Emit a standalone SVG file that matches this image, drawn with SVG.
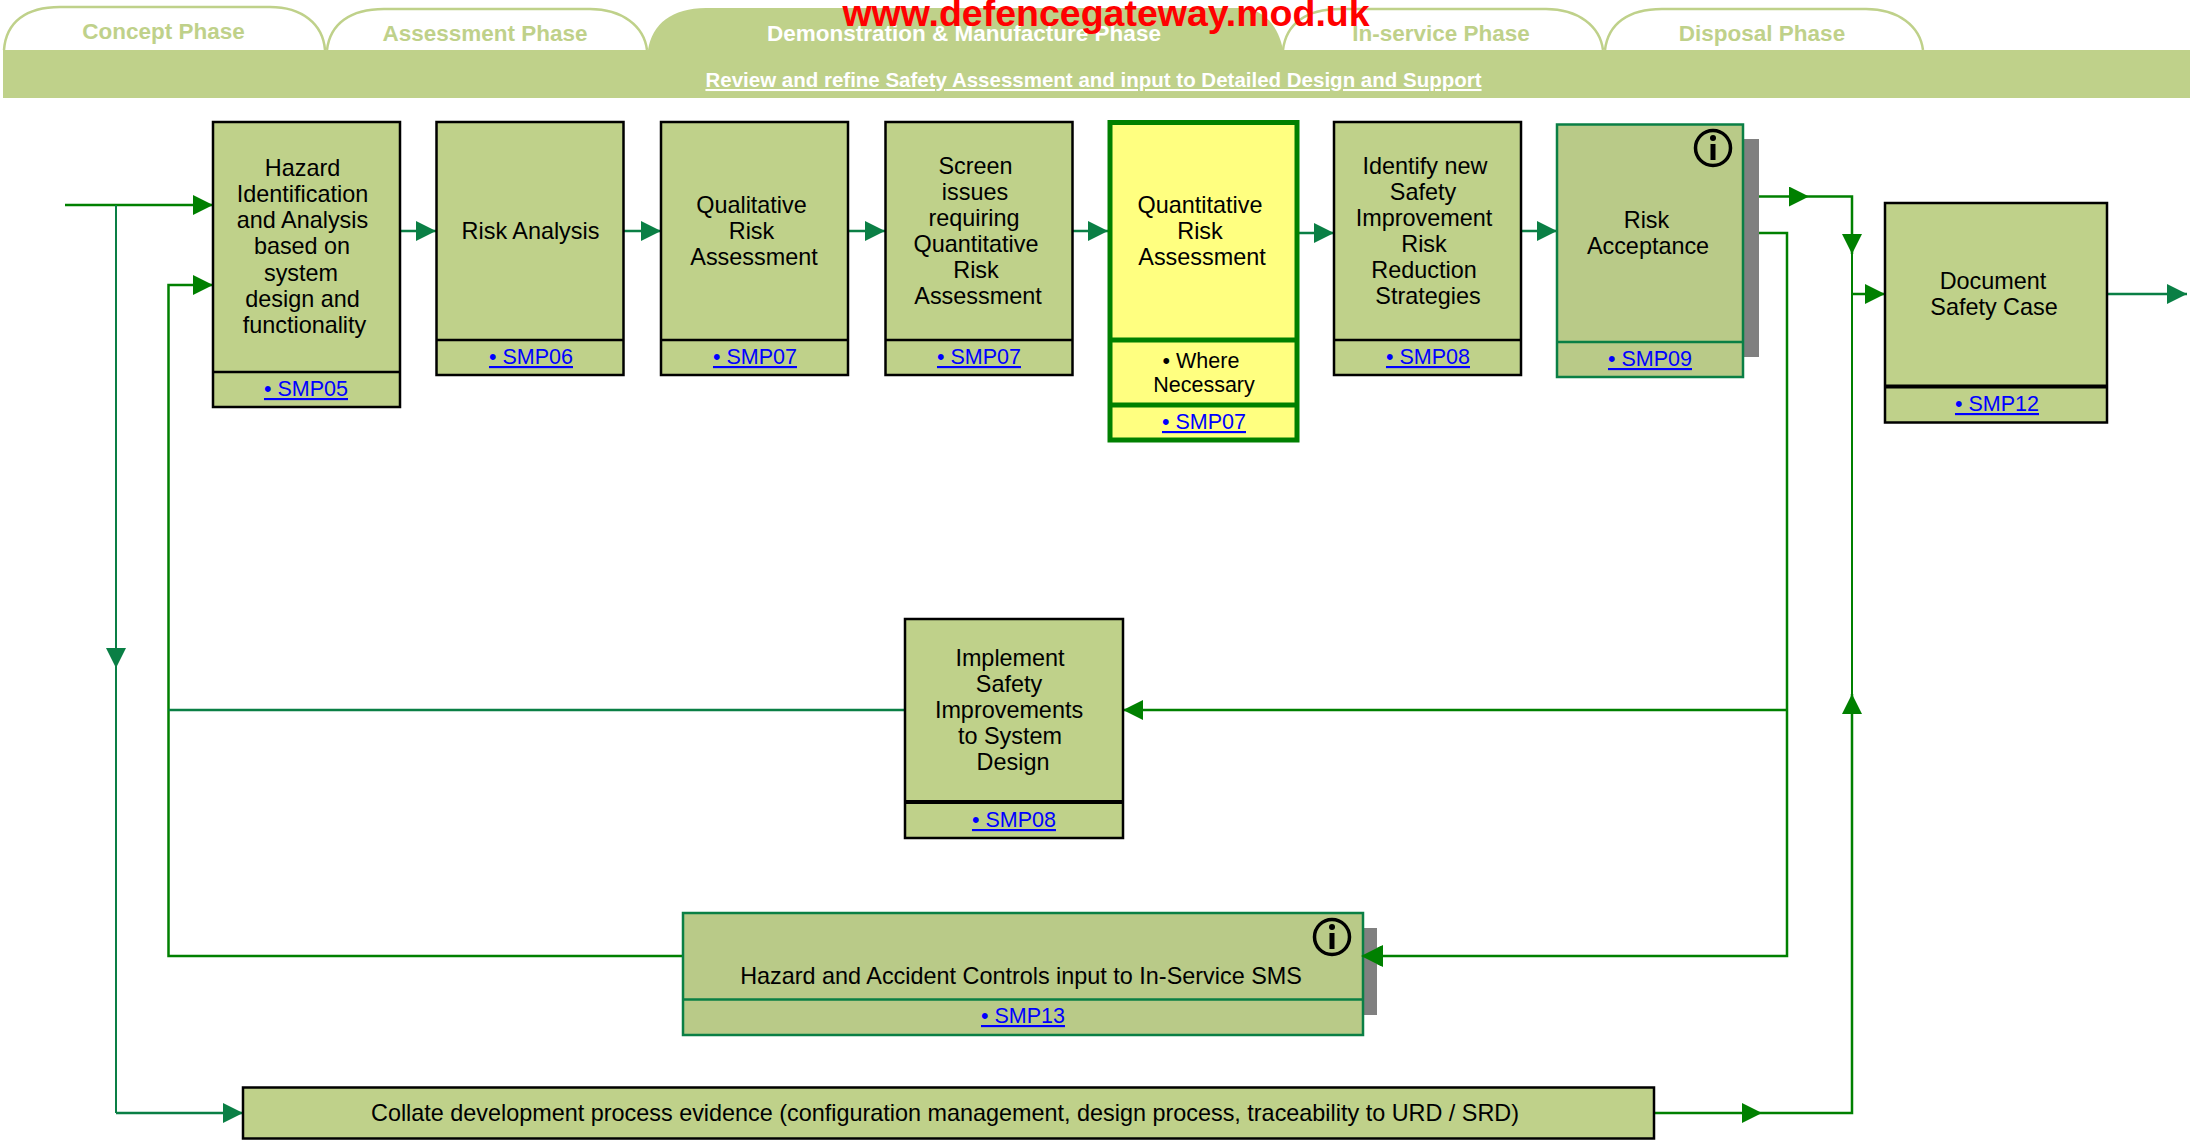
<svg xmlns="http://www.w3.org/2000/svg" width="2190" height="1144" viewBox="0 0 2190 1144">
<style>
text{font-family:"Liberation Sans",Arial,sans-serif;font-size:23.4px;fill:#000;text-anchor:middle}
.link{font-size:21.5px;fill:#0000ff;text-decoration:underline}
.tab{font-size:22.5px;font-weight:bold;fill:#bfd18a}
.act{font-size:22.5px;font-weight:bold;fill:#fff}
.b{fill:#bfd18a;stroke:#000;stroke-width:2.5}
.g{fill:#b9ca88;stroke:#0a7f45;stroke-width:2.5}
.y{fill:#ffff80;stroke:#008000;stroke-width:5}
.tb{fill:#fff;stroke:#bfd18a;stroke-width:2.5}
.c{fill:none;stroke:#008000;stroke-width:2.5}
.t{fill:none;stroke:#0a7f45;stroke-width:2.5}
.th{stroke-width:2}
</style>
<defs>
<marker id="ag" markerUnits="userSpaceOnUse" markerWidth="24" markerHeight="24" refX="20" refY="10" orient="auto"><path d="M0 0L20 10L0 20Z" fill="#008000"/></marker>
<marker id="at" markerUnits="userSpaceOnUse" markerWidth="24" markerHeight="24" refX="20" refY="10" orient="auto"><path d="M0 0L20 10L0 20Z" fill="#0a7f45"/></marker>
</defs>
<g id="phase-header">
<path class="tb" d="M4 50C6 22 26 7 60 7H270C302 7 323 24 325 50"/>
<path class="tb" d="M327 50C330 24 350 9 384 9H590C622 9 644 26 647 50"/>
<path class="tb" d="M1283 50C1286 24 1306 9 1340 9H1546C1578 9 1600 26 1603 50"/>
<path class="tb" d="M1605 50C1608 24 1628 9 1662 9H1866C1898 9 1920 26 1923 50"/>
<path fill="#bfd18a" d="M648 50C652 24 672 8 706 8H1240C1262 8 1278 24 1283 50Z"/>
<rect x="3" y="50" width="2187" height="48" fill="#bfd18a"/>
<text class="tab" x="163.500" y="39">Concept Phase</text>
<text class="tab" x="485" y="41">Assessment Phase</text>
<text class="act" x="964" y="41">Demonstration &amp; Manufacture Phase</text>
<text class="tab" x="1441" y="41">In-service Phase</text>
<text class="tab" x="1762" y="41">Disposal Phase</text>
<text class="act" x="1093.500" y="87" style="font-size:20.5px;text-decoration:underline">Review and refine Safety Assessment and input to Detailed Design and Support</text>
</g>
<g id="connectors">
<path class="c" d="M65 205H213" marker-end="url(#ag)"/>
<path class="t th" d="M116 205V668" marker-end="url(#at)"/>
<path class="t th" d="M116 668V1113"/>
<path class="t" d="M116 1113H243" marker-end="url(#at)"/>
<path class="c" d="M682 956H168.500V285H213" marker-end="url(#ag)"/>
<path class="t" d="M905 710H168.500"/>
<path class="t" d="M400 231H436" marker-end="url(#at)"/>
<path class="t" d="M624 231H661" marker-end="url(#at)"/>
<path class="t" d="M848 231H885" marker-end="url(#at)"/>
<path class="t" d="M1073 231H1108" marker-end="url(#at)"/>
<path class="t" d="M1298 233H1334" marker-end="url(#at)"/>
<path class="t" d="M1521 231H1557" marker-end="url(#at)"/>
<path class="c" d="M1743 233H1787V956H1361" marker-end="url(#ag)"/>
<path class="c" d="M1787 710H1123" marker-end="url(#ag)"/>
<path class="c" d="M1743 196.500H1809" marker-end="url(#ag)"/>
<path class="c" d="M1809 196.500H1852V254" marker-end="url(#ag)"/>
<path class="c" d="M1852 294H1885" marker-end="url(#ag)"/>
<path class="t" d="M2107 294H2187" marker-end="url(#at)"/>
<path class="c" d="M1654 1113H1762" marker-end="url(#ag)"/>
<path class="c" d="M1762 1113H1852V694" marker-end="url(#ag)"/>
<path class="c th" d="M1852 694V254"/>
</g>
<g id="n-hazard-id">
<rect class="b" x="213" y="122" width="187" height="285"/><path class="b" d="M213 372H400"/>
<text x="302.500" y="176">Hazard</text><text x="302.500" y="202">Identification</text><text x="302.500" y="228">and Analysis</text><text x="302" y="254">based on</text><text x="301" y="281">system</text><text x="302.500" y="307">design and</text><text x="304.500" y="333">functionality</text>
<text class="link" x="306" y="396">• SMP05</text>
</g>
<g id="n-risk-analysis">
<rect class="b" x="436.500" y="122" width="187" height="253"/><path class="b" d="M436.500 340H623.500"/>
<text x="530.500" y="239">Risk Analysis</text>
<text class="link" x="531" y="364">• SMP06</text>
</g>
<g id="n-qualitative">
<rect class="b" x="661" y="122" width="187" height="253"/><path class="b" d="M661 340H848"/>
<text x="751.500" y="213">Qualitative</text><text x="751.500" y="239">Risk</text><text x="754" y="265">Assessment</text>
<text class="link" x="755" y="364">• SMP07</text>
</g>
<g id="n-screen">
<rect class="b" x="885.500" y="122" width="187" height="253"/><path class="b" d="M885.500 340H1072.500"/>
<text x="975.500" y="174">Screen</text><text x="975" y="200">issues</text><text x="974" y="226">requiring</text><text x="976" y="252">Quantitative</text><text x="976" y="278">Risk</text><text x="978" y="304">Assessment</text>
<text class="link" x="979" y="364">• SMP07</text>
</g>
<g id="n-quantitative">
<rect class="y" x="1110" y="122.500" width="187" height="317.500"/><path class="y" d="M1110 340H1297M1110 405H1297"/>
<text x="1200" y="213">Quantitative</text><text x="1200" y="239">Risk</text><text x="1202" y="265">Assessment</text>
<text x="1201" y="368" style="font-size:21.500px">• Where</text><text x="1204" y="392" style="font-size:21.500px">Necessary</text>
<text class="link" x="1204" y="429">• SMP07</text>
</g>
<g id="n-identify">
<rect class="b" x="1334" y="122" width="187" height="253"/><path class="b" d="M1334 340H1521"/>
<text x="1425" y="174">Identify new</text><text x="1423" y="200">Safety</text><text x="1424" y="226">Improvement</text><text x="1424" y="252">Risk</text><text x="1424" y="278">Reduction</text><text x="1428" y="304">Strategies</text>
<text class="link" x="1428" y="364">• SMP08</text>
</g>
<g id="n-acceptance">
<rect x="1743" y="139" width="16" height="218" fill="#808080"/>
<rect class="g" x="1557" y="124.500" width="186" height="252.500"/><path class="g" d="M1557 342H1743"/>
<circle cx="1713" cy="148" r="17.500" fill="none" stroke="#000" stroke-width="3.500"/><circle cx="1713" cy="138" r="3" fill="#000"/><rect x="1710.500" y="144" width="5" height="16" fill="#000"/>
<text x="1646.500" y="228">Risk</text><text x="1648" y="254">Acceptance</text>
<text class="link" x="1650" y="366">• SMP09</text>
</g>
<g id="n-document">
<rect class="b" x="1885" y="203" width="222" height="219.500"/><path class="b" d="M1885 386.500H2107" style="stroke-width:4"/>
<text x="1993" y="289">Document</text><text x="1994" y="315">Safety Case</text>
<text class="link" x="1997" y="411">• SMP12</text>
</g>
<g id="n-implement">
<rect class="b" x="905" y="619" width="218" height="219"/><path class="b" d="M905 802H1123" style="stroke-width:4"/>
<text x="1010" y="666">Implement</text><text x="1009" y="692">Safety</text><text x="1009" y="718">Improvements</text><text x="1010" y="744">to System</text><text x="1013" y="770">Design</text>
<text class="link" x="1014" y="827">• SMP08</text>
</g>
<g id="n-controls">
<rect x="1363" y="928" width="14" height="87" fill="#808080"/>
<rect class="g" x="683" y="913" width="680" height="122"/><path class="g" d="M683 999.500H1363"/>
<circle cx="1332" cy="937" r="17.500" fill="none" stroke="#000" stroke-width="3.500"/><circle cx="1332" cy="927" r="3" fill="#000"/><rect x="1329.500" y="933" width="5" height="16" fill="#000"/>
<text x="1021" y="984">Hazard and Accident Controls input to In-Service SMS</text>
<text class="link" x="1023" y="1023">• SMP13</text>
</g>
<g id="n-collate">
<rect class="b" x="243" y="1087.500" width="1411" height="51"/>
<text x="945" y="1121">Collate development process evidence (configuration management, design process, traceability to URD / SRD)</text>
</g>
<path d="M1361 956L1383 945V967Z" fill="#008000"/>
<text x="1106" y="26" style="font-size:37.500px;font-weight:bold;fill:#ff0000">www.defencegateway.mod.uk</text>
</svg>
